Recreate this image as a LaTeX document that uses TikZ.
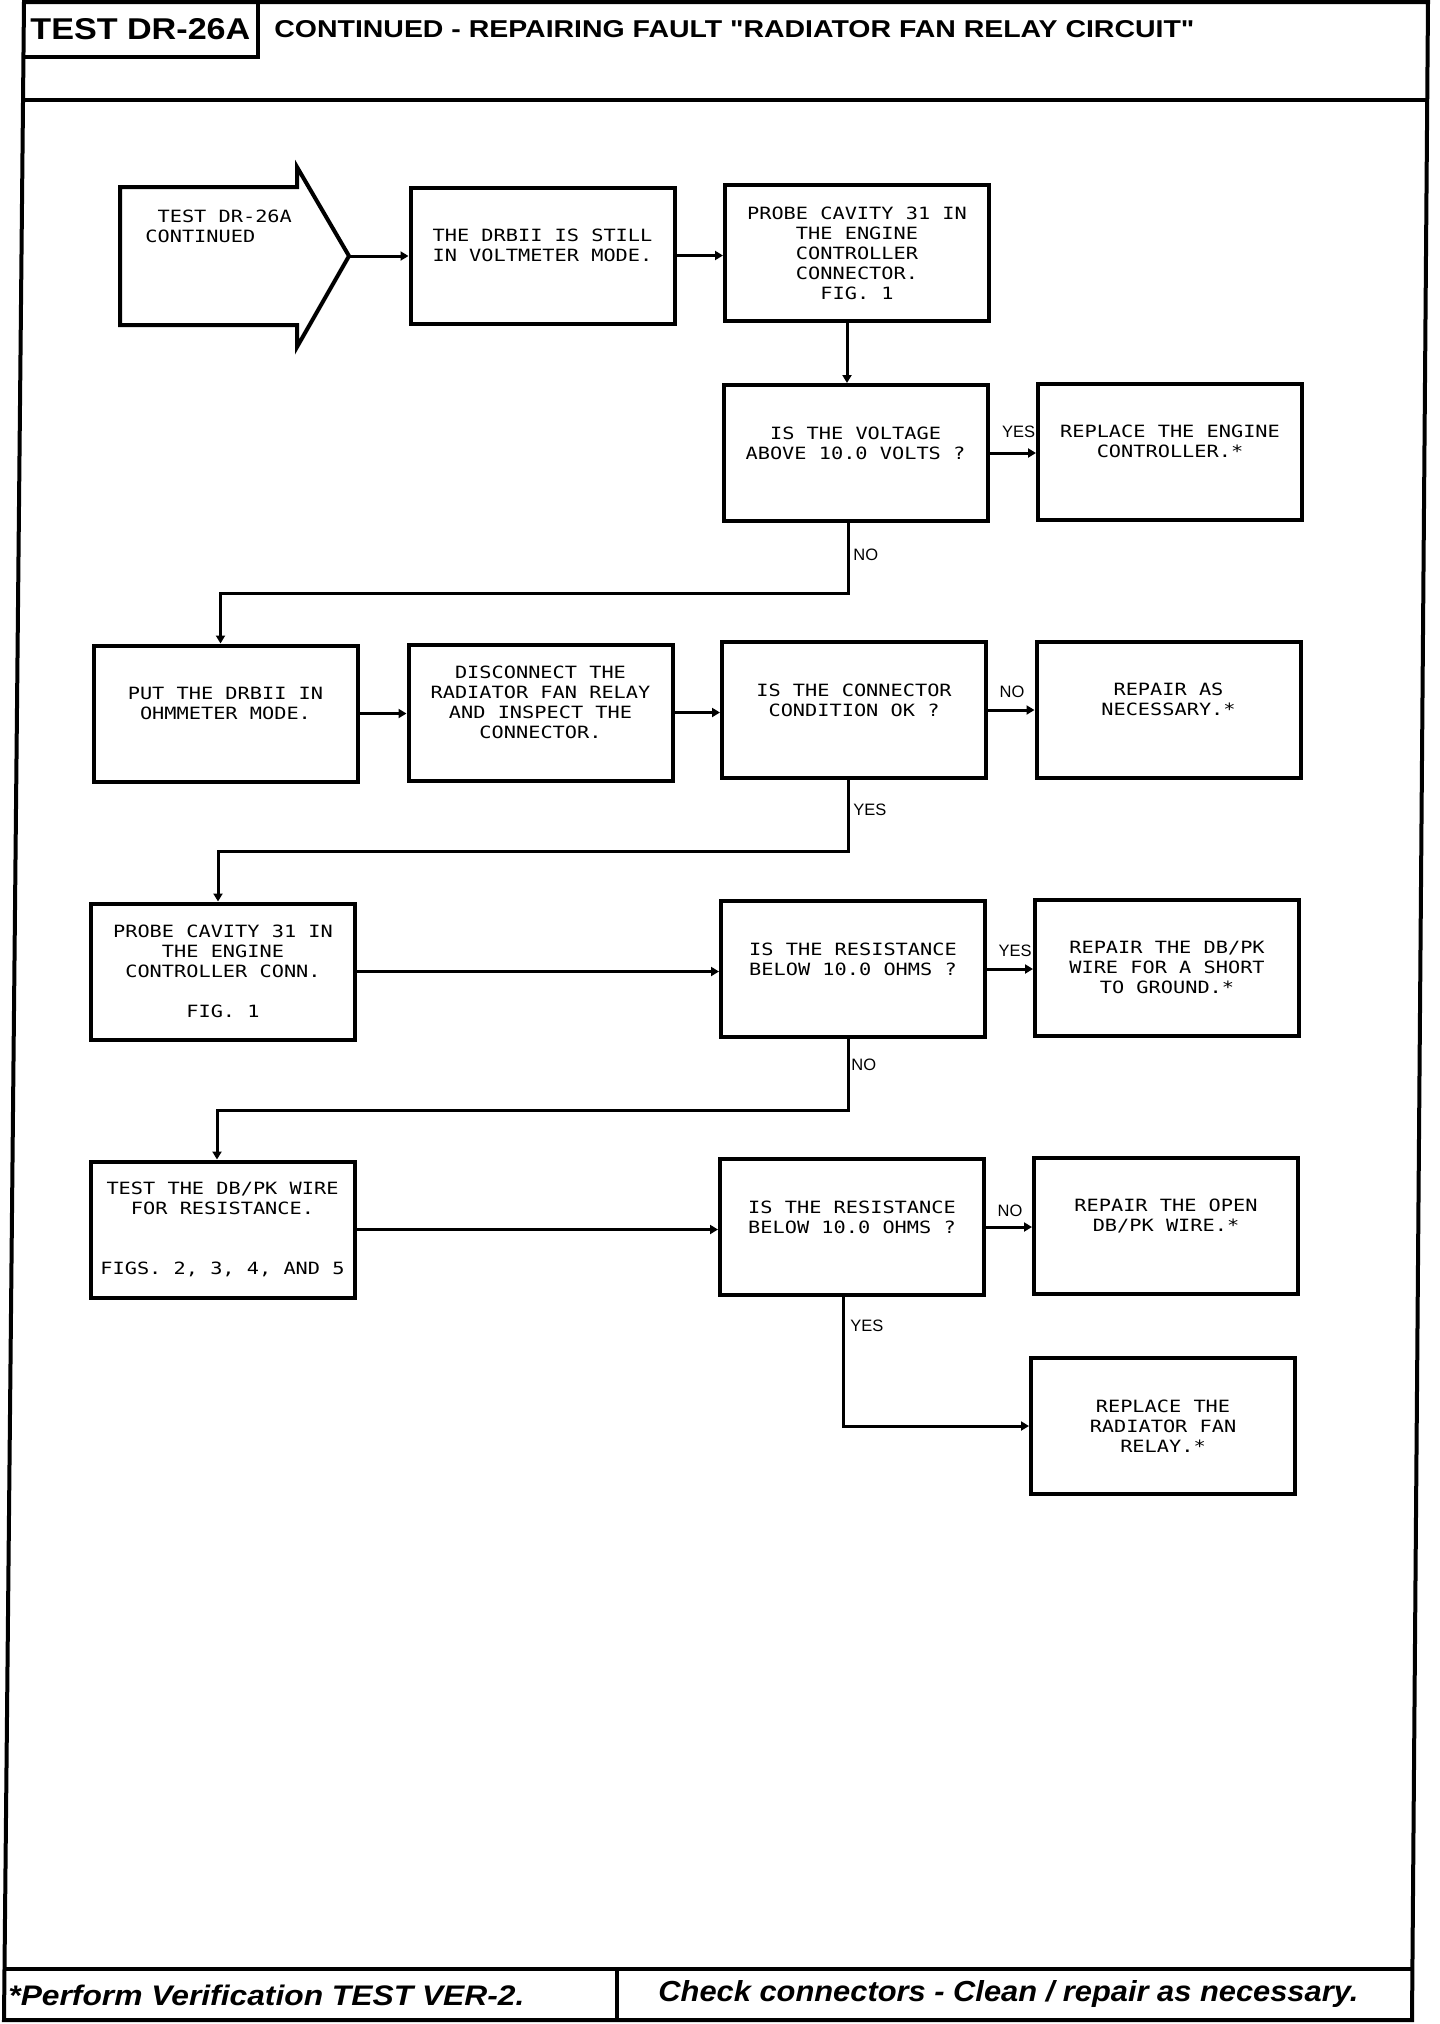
\documentclass[tikz,border=0pt]{standalone}
\usepackage{graphicx}
\usepackage{fontspec}
\setmainfont{Liberation Sans}
\newfontfamily\hdfont{Liberation Sans}[Ligatures=TeXOff]
\newfontfamily\boxfont[FakeStretch=1.2]{DejaVu Sans Mono}
\usetikzlibrary{arrows.meta,calc}
\begin{document}
\begin{tikzpicture}[x=0.5pt,y=-0.5pt,
  frame/.style={line width=2pt, line join=miter},
  boxtext/.style={font=\boxfont\fontsize{8.45pt}{10pt}\selectfont},
  box/.style={draw, line width=2pt, minimum width=132pt, minimum height=68pt,
    inner sep=0pt, align=center, boxtext},
  conn/.style={line width=1.5pt, -{Triangle[length=4pt,width=4.5pt]}},
  lbl/.style={font=\fontsize{8.25pt}{10pt}\selectfont, inner sep=0pt},
  sidelbl/.style={lbl, anchor=base},
  downlbl/.style={lbl, anchor=base west},
  ]
\fill[white] (0,0) rectangle (1440,2024);
\useasboundingbox (0,0) rectangle (1440,2024);

% page frame
\draw[frame] (24,2) -- (1428,2) -- (1412,2020) -- (4,2020) -- cycle;
\draw[frame] (258,2) -- (258,57) -- (23.4,57);
\draw[frame] (23,100) -- (1427,100);
\draw[frame] (4.5,1969) -- (1412.4,1969);
\draw[frame] (617,1969) -- (617,2020);

\node[anchor=base west, inner sep=0pt] (title) at (30,39)
  {\resizebox{110pt}{10.5pt}{\hdfont\bfseries TEST DR-26A}};
\node[anchor=base west, inner sep=0pt] (subtitle) at (274,37)
  {\resizebox{460pt}{8.5pt}{\hdfont\bfseries CONTINUED - REPAIRING FAULT "RADIATOR FAN RELAY CIRCUIT"}};
\node[anchor=base west, inner sep=0pt] (foot1) at (8,2005)
  {\resizebox{258pt}{10.25pt}{\bfseries\itshape *Perform Verification TEST VER-2.}};
\node[anchor=base west, inner sep=0pt] (foot2) at (658,2001)
  {\resizebox{350pt}{10.5pt}{\bfseries\itshape Check connectors - Clean / repair as necessary.}};

% start arrow
\draw[frame] (120,187) -- (297,187) -- (297,167) -- (349,256) -- (297,347)
  -- (297,325) -- (120,325) -- cycle;
\node[boxtext, anchor=north west, align=left, inner sep=0pt] (start) at (145,210)
  {\ TEST DR-26A\\CONTINUED};
\coordinate (starttip) at (349,256);

% boxes
\node[box] (b2) at (542.5,255.5) {THE DRBII IS STILL\\IN VOLTMETER MODE.\\\mbox{}};
\node[box] (b3) at (857,253) {PROBE CAVITY 31 IN\\THE ENGINE\\CONTROLLER\\CONNECTOR.\\FIG. 1};
\node[box] (b4) at (855.5,453) {IS THE VOLTAGE\\ABOVE 10.0 VOLTS ?\\\mbox{}};
\node[box] (b5) at (1170,451.5) {REPLACE THE ENGINE\\CONTROLLER.*\\\mbox{}};
\node[box] (b6) at (225.5,713.5) {PUT THE DRBII IN\\OHMMETER MODE.\\\mbox{}};
\node[box] (b7) at (540.5,712.5) {DISCONNECT THE\\RADIATOR FAN RELAY\\AND INSPECT THE\\CONNECTOR.\\\mbox{}};
\node[box] (b8) at (854,710) {IS THE CONNECTOR\\CONDITION OK ?\\\mbox{}};
\node[box] (b9) at (1168.5,709.5) {REPAIR AS\\NECESSARY.*\\\mbox{}};
\node[box] (b10) at (223,971.5) {PROBE CAVITY 31 IN\\THE ENGINE\\CONTROLLER CONN.\\\mbox{}\\FIG. 1};
\node[box] (b11) at (853,969) {IS THE RESISTANCE\\BELOW 10.0 OHMS ?\\\mbox{}};
\node[box] (b12) at (1167,967.5) {REPAIR THE DB/PK\\WIRE FOR A SHORT\\TO GROUND.*};
\node[box] (b13) at (222.5,1229.5) {TEST THE DB/PK WIRE\\FOR RESISTANCE.\\\mbox{}\\\mbox{}\\FIGS. 2, 3, 4, AND 5};
\node[box] (b14) at (852,1227) {IS THE RESISTANCE\\BELOW 10.0 OHMS ?\\\mbox{}};
\node[box] (b15) at (1166,1225.5) {REPAIR THE OPEN\\DB/PK WIRE.*\\\mbox{}};
\node[box] (b16) at (1163,1426) {REPLACE THE\\RADIATOR FAN\\RELAY.*};

% connectors
\draw[conn] (starttip) -- (starttip -| b2.west);
\draw[conn] (b2.east) -- (b2.east -| b3.west);
\draw[conn] ([xshift=-5pt]b3.south) -- ([xshift=-5pt]b3.south |- b4.north);
\draw[conn] (b4.east) -- (b4.east -| b5.west);
\draw[conn] ([xshift=-3.5pt]b4.south) -- ++(0,70) -| ([xshift=-2.5pt]b6.north);
\draw[conn] (b6.east) -- (b6.east -| b7.west);
\draw[conn] (b7.east) -- (b7.east -| b8.west);
\draw[conn] (b8.east) -- (b8.east -| b9.west);
\draw[conn] ([xshift=-3pt]b8.south) -- ++(0,71) -| ([xshift=-2.5pt]b10.north);
\draw[conn] (b10.east) -- (b10.east -| b11.west);
\draw[conn] (b11.east) -- (b11.east -| b12.west);
\draw[conn] ([xshift=-2.5pt]b11.south) -- ++(0,71) -| ([xshift=-2.75pt]b13.north);
\draw[conn] (b13.east) -- (b13.east -| b14.west);
\draw[conn] (b14.east) -- (b14.east -| b15.west);
\draw[conn] ([xshift=-4.5pt]b14.south) |- (b16.west);

% labels
\node[sidelbl] (l1) at (1018.5,437) {YES};
\node[downlbl] (l2) at (853,560) {NO};
\node[sidelbl] (l3) at (1012,697) {NO};
\node[downlbl] (l4) at (853,815) {YES};
\node[sidelbl] (l5) at (1015,956) {YES};
\node[downlbl] (l6) at (851,1070) {NO};
\node[sidelbl] (l7) at (1010,1216) {NO};
\node[downlbl] (l8) at (850,1331) {YES};
\end{tikzpicture}
\end{document}
